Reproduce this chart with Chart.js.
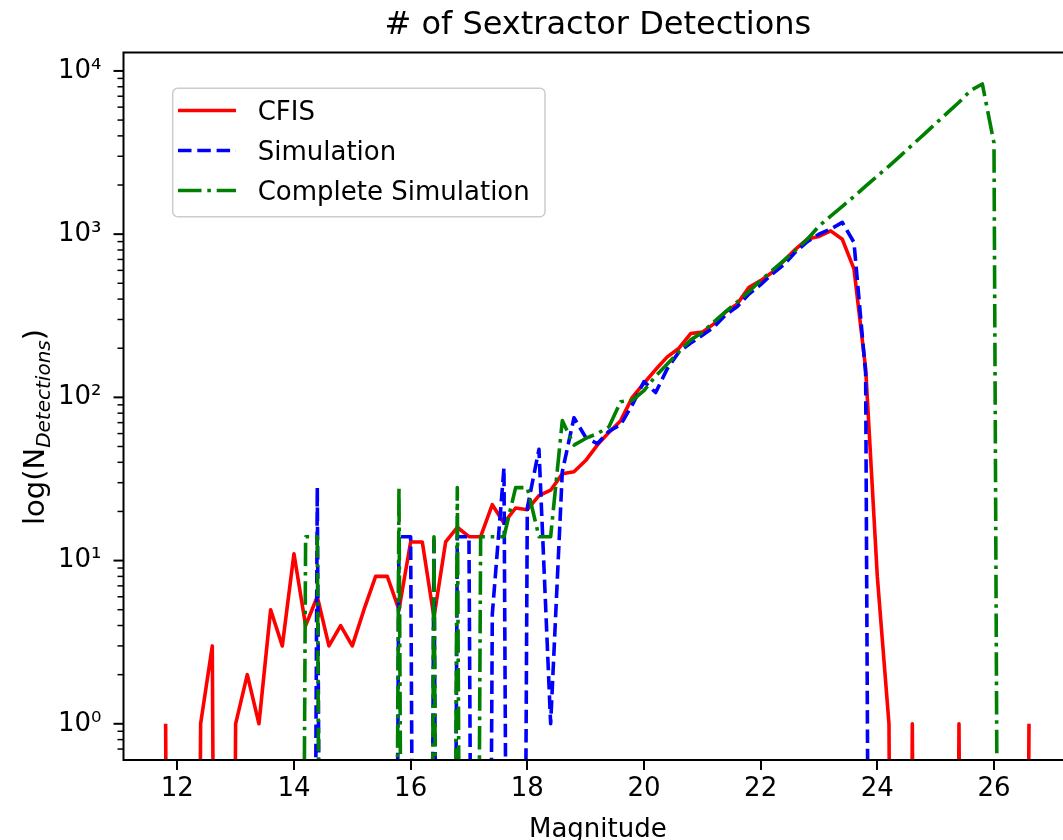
<!DOCTYPE html>
<html>
<head>
<meta charset="utf-8">
<script src="https://cdn.jsdelivr.net/npm/chart.js@4.4.1/dist/chart.umd.min.js"></script>
<style>
  html, body { margin: 0; padding: 0; background: #fff; overflow: hidden; }
  #wrap { position: relative; width: 1063px; height: 840px; }
</style>
</head>
<body>
<div id="wrap"><canvas id="c" width="1063" height="840"></canvas></div>
<script>
// ---------------- data ----------------
const magnitudes = [
  11.8, 12.0, 12.2, 12.4, 12.6, 12.8, 13.0, 13.2, 13.4, 13.6,
  13.8, 14.0, 14.2, 14.4, 14.6, 14.8, 15.0, 15.2, 15.4, 15.6,
  15.8, 16.0, 16.2, 16.4, 16.6, 16.8, 17.0, 17.2, 17.4, 17.6,
  17.8, 18.0, 18.2, 18.4, 18.6, 18.8, 19.0, 19.2, 19.4, 19.6,
  19.8, 20.0, 20.2, 20.4, 20.6, 20.8, 21.0, 21.2, 21.4, 21.6,
  21.8, 22.0, 22.2, 22.4, 22.6, 22.8, 23.0, 23.2, 23.4, 23.6,
  23.8, 24.0, 24.2, 24.4, 24.6, 24.8, 25.0, 25.2, 25.4, 25.6,
  25.8, 26.0, 26.2, 26.4, 26.6
];
const cfisCounts = [
  1, 0, 0, 1, 3, 0, 1, 2, 1, 5,
  3, 11, 4, 6, 3, 4, 3, 5, 8, 8,
  5, 13, 13, 4.5, 13, 16, 14, 14, 22, 17,
  21, 20.5, 25, 27, 34, 35, 41, 51, 61, 72,
  100, 122, 148, 177, 200, 246, 251, 282, 333, 374,
  473, 519, 584, 687, 810, 933, 968, 1047, 930, 612,
  150, 8, 1, 0, 1, 0, 0, 0, 1, 0,
  0, 0, 0, 0, 1
];
const simulationCounts = [
  0, 0, 0, 0, 0, 0, 0, 0, 0, 0,
  0, 0, 0, 28, 0, 0, 0, 0, 0, 0,
  14, 14, 0, 14, 0, 14, 14, 0, 4.7, 37,
  0, 21, 48, 1, 35, 75, 57, 52, 62, 68,
  90, 125, 107, 150, 190, 215, 240, 270, 320, 360,
  430, 490, 570, 650, 780, 900, 1000, 1074, 1180, 890,
  140, 0, 0, 0, 0, 0, 0, 0, 0, 0,
  0, 0, 0, 0, 0
];
const completeSimulationCounts = [
  0, 0, 0, 0, 0, 0, 0, 0, 0, 0,
  0, 0, 14, 14, 0, 0, 0, 0, 0, 0,
  28, 0, 0, 14, 0, 28, 0, 14, 14, 14,
  28, 28, 14, 14, 72, 51, 56, 60, 66, 94,
  96, 110, 135, 160, 190, 225, 250, 290, 335, 385,
  445, 520, 600, 690, 800, 930, 1120, 1290, 1480, 1700,
  1970, 2270, 2610, 3030, 3520, 4090, 4760, 5530, 6430, 7590,
  8320, 3620, 0, 0, 0
];
const seriesLabels = ['CFIS', 'Simulation', 'Complete Simulation'];
const xTickValues = [12, 14, 16, 18, 20, 22, 24, 26];
const xTickLabels = ['12', '14', '16', '18', '20', '22', '24', '26'];
const yMajorTicks = [1, 10, 100, 1000, 10000];
const yTickLabels = ['10\u2070', '10\u00B9', '10\u00B2', '10\u00B3', '10\u2074'];
const chartTitle = '# of Sextractor Detections';
const xAxisTitle = 'Magnitude';
const yAxisTitleMain = 'log(N';
const yAxisTitleSub = 'Detections';
const yAxisTitleEnd = ')';

// ---------------- styling ----------------
const FONT = '"DejaVu Sans", "Liberation Sans", sans-serif';
const LW = 3.6;
const ZERO_FLOOR = 1e-12; // zero counts drop off the log axis, like matplotlib's clipping
const X_MIN = 11.078, X_MAX = 27.183;
const Y_MIN = 0.6295, Y_MAX = 12970;

function toPoints(values) {
  return magnitudes.map((m, i) => ({ x: m, y: values[i] > 0 ? values[i] : ZERO_FLOOR }));
}

const styles = [
  { color: '#ff0000', dash: [] },
  { color: '#0000ff', dash: [13.5, 5.8] },
  { color: '#008000', dash: [23.5, 5.8, 3.6, 5.8] }
];

const yAllTicks = (() => {
  const out = [];
  [0.1, 1, 10, 100, 1000, 10000].forEach(d => {
    for (let k = 1; k <= 9; k++) {
      const v = +(k * d).toPrecision(6);
      if (v >= Y_MIN && v <= Y_MAX) out.push(v);
    }
  });
  return out;
})();

const decorPlugin = {
  id: 'decor',
  afterDraw(chart) {
    const ctx = chart.ctx;
    const a = chart.chartArea;
    const xs = chart.scales.x, ys = chart.scales.y;
    ctx.save();
    // spines
    ctx.strokeStyle = '#000';
    ctx.lineWidth = 2;
    ctx.lineCap = 'butt';
    ctx.beginPath();
    ctx.moveTo(a.left, a.top); ctx.lineTo(chart.width + 5, a.top);
    ctx.moveTo(a.left, a.top - 1); ctx.lineTo(a.left, a.bottom + 1);
    ctx.moveTo(a.left - 1, a.bottom); ctx.lineTo(chart.width + 5, a.bottom);
    ctx.stroke();
    // x ticks
    ctx.lineWidth = 2;
    ctx.beginPath();
    xTickValues.forEach(v => {
      const px = Math.round(xs.getPixelForValue(v));
      ctx.moveTo(px, a.bottom); ctx.lineTo(px, a.bottom + 10);
    });
    ctx.stroke();
    // y ticks
    yAllTicks.forEach(v => {
      const py = ys.getPixelForValue(v);
      const major = yMajorTicks.includes(v);
      ctx.lineWidth = major ? 2 : 1.5;
      ctx.beginPath();
      ctx.moveTo(a.left, py); ctx.lineTo(a.left - (major ? 10 : 6), py);
      ctx.stroke();
    });
    // title
    ctx.fillStyle = '#000';
    ctx.textAlign = 'center';
    ctx.textBaseline = 'alphabetic';
    ctx.font = '32px ' + FONT;
    const cx = (a.left + xs.getPixelForValue(27.34)) / 2;
    ctx.fillText(chartTitle, cx, 34);
    // x label
    ctx.font = '26px ' + FONT;
    ctx.fillText(xAxisTitle, cx, 837);
    // y label (rotated, with italic subscript)
    const mainFont = '29px ' + FONT;
    const subFont = 'italic 20px ' + FONT;
    ctx.font = mainFont; const w1 = ctx.measureText(yAxisTitleMain).width;
    const w3 = ctx.measureText(yAxisTitleEnd).width;
    ctx.font = subFont; const w2 = ctx.measureText(yAxisTitleSub).width;
    const total = w1 + w2 + w3;
    ctx.translate(44, 427);
    ctx.rotate(-Math.PI / 2);
    ctx.textAlign = 'left';
    let x0 = -total / 2;
    ctx.font = mainFont; ctx.fillText(yAxisTitleMain, x0, 0); x0 += w1;
    ctx.font = subFont; ctx.fillText(yAxisTitleSub, x0, 6); x0 += w2;
    ctx.font = mainFont; ctx.fillText(yAxisTitleEnd, x0, 0);
    ctx.restore();

    // legend
    ctx.save();
    const lx = 172.7, ly = 88.3, lw = 545 - 172.7, lh = 216.7 - 88.3, r = 5;
    ctx.beginPath();
    ctx.moveTo(lx + r, ly);
    ctx.arcTo(lx + lw, ly, lx + lw, ly + lh, r);
    ctx.arcTo(lx + lw, ly + lh, lx, ly + lh, r);
    ctx.arcTo(lx, ly + lh, lx, ly, r);
    ctx.arcTo(lx, ly, lx + lw, ly, r);
    ctx.closePath();
    ctx.fillStyle = 'rgba(255,255,255,0.8)';
    ctx.fill();
    ctx.strokeStyle = '#cccccc';
    ctx.lineWidth = 1.5;
    ctx.stroke();
    chart.data.datasets.forEach((ds, i) => {
      const base = 120 + i * 40;
      ctx.strokeStyle = ds.borderColor;
      ctx.lineWidth = LW;
      ctx.lineCap = 'butt';
      ctx.setLineDash(ds.borderDash || []);
      ctx.beginPath();
      ctx.moveTo(178, base - 9.5); ctx.lineTo(236, base - 9.5);
      ctx.stroke();
      ctx.setLineDash([]);
      ctx.fillStyle = '#000';
      ctx.font = '26px ' + FONT;
      ctx.textAlign = 'left';
      ctx.textBaseline = 'alphabetic';
      ctx.fillText(ds.label, 257.7, base);
    });
    ctx.restore();
  }
};

const seriesValues = [cfisCounts, simulationCounts, completeSimulationCounts];
const datasets = seriesValues.map((vals, i) => ({
  label: seriesLabels[i],
  data: toPoints(vals),
  showLine: true,
  borderColor: styles[i].color,
  borderDash: styles[i].dash,
  borderWidth: LW,
  borderCapStyle: 'butt',
  borderJoinStyle: 'round',
  pointRadius: 0,
  pointHoverRadius: 0,
  fill: false,
  tension: 0,
  clip: 0,
  order: 3 - i
}));

new Chart(document.getElementById('c').getContext('2d'), {
  type: 'scatter',
  data: { datasets },
  options: {
    responsive: false,
    animation: false,
    events: [],
    layout: { padding: { top: 52.5, bottom: 0, left: 0, right: 0 } },
    plugins: { legend: { display: false }, tooltip: { enabled: false }, title: { display: false } },
    scales: {
      x: {
        type: 'linear', min: X_MIN, max: X_MAX,
        grid: { display: false, drawTicks: false },
        border: { display: false },
        afterBuildTicks: s => { s.ticks = xTickValues.map(v => ({ value: v })); },
        afterFit: s => { s.height = 80; },
        ticks: {
          autoSkip: false, maxRotation: 0, padding: 14, color: '#000',
          font: { family: FONT, size: 26 },
          callback: v => { const i = xTickValues.indexOf(v); return i >= 0 ? xTickLabels[i] : ''; }
        }
      },
      y: {
        type: 'logarithmic', min: Y_MIN, max: Y_MAX,
        grid: { display: false, drawTicks: false },
        border: { display: false },
        afterBuildTicks: s => { s.ticks = yAllTicks.map(v => ({ value: v, major: yMajorTicks.includes(v) })); },
        afterFit: s => { s.width = 123.5; },
        ticks: {
          autoSkip: false, padding: 22, color: '#000',
          font: { family: FONT, size: 26 },
          callback: v => { const i = yMajorTicks.indexOf(v); return i >= 0 ? yTickLabels[i] : ''; }
        }
      }
    }
  },
  plugins: [decorPlugin]
});
</script>
</body>
</html>
